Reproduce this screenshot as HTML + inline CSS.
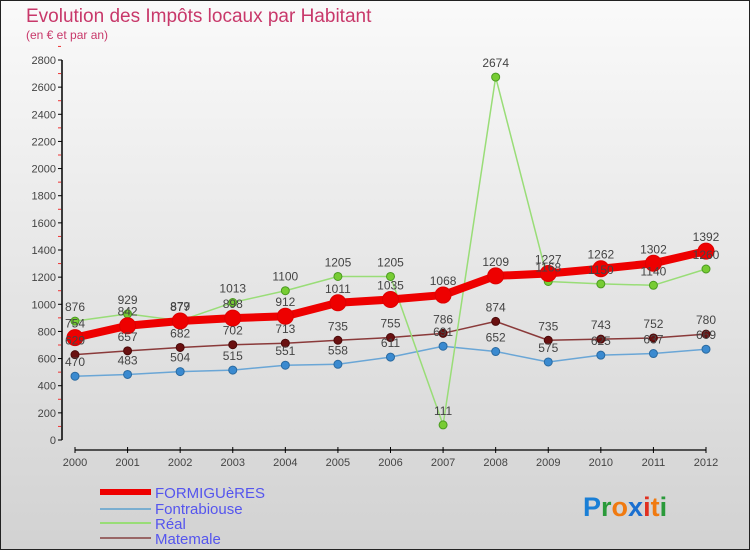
<!DOCTYPE html>
<html><head><meta charset="utf-8"><style>
body{margin:0;width:750px;height:550px;overflow:hidden;font-family:"Liberation Sans","DejaVu Sans",sans-serif}
svg text{font-family:"Liberation Sans","DejaVu Sans",sans-serif}
</style></head><body>
<svg id="chart" width="750" height="550" viewBox="0 0 750 550">
<defs><linearGradient id="bg" x1="0" y1="0" x2="0" y2="1"><stop offset="0" stop-color="#fafafa"/><stop offset="1" stop-color="#d2d2d2"/></linearGradient></defs>
<rect x="0.5" y="0.5" width="749" height="549" fill="url(#bg)" stroke="#222"/>
<text x="26" y="22" font-size="19" fill="#c8386a">Evolution des Impôts locaux par Habitant</text>
<text x="26" y="39" font-size="12" fill="#c8386a">(en € et par an)</text>
<g id="axes"></g><g id="series"></g><g id="labels"></g>
<g>
<rect x="100" y="489" width="51" height="6" fill="#e00"/>
<text x="155" y="498" font-size="15" fill="#5555ee">FORMIGUèRES</text>
<rect x="100" y="508" width="51" height="2" fill="#7aaed0"/>
<text x="155" y="514" font-size="15" fill="#5555ee">Fontrabiouse</text>
<rect x="100" y="522" width="51" height="2" fill="#99dd77"/>
<text x="155" y="529" font-size="15" fill="#5555ee">Réal</text>
<rect x="100" y="537" width="51" height="2" fill="#996666"/>
<text x="155" y="544" font-size="15" fill="#5555ee">Matemale</text>
</g>
<g font-size="27" font-weight="bold">
<text x="583" y="516"><tspan fill="#1a7fd6">P</tspan><tspan fill="#2a9a3a">r</tspan><tspan fill="#f07a10">o</tspan><tspan fill="#1a6fd0">x</tspan><tspan fill="#e03020">i</tspan><tspan fill="#f07a10">t</tspan><tspan fill="#2a9a3a">i</tspan></text>
</g>
</svg>
<script>
const years=[2000,2001,2002,2003,2004,2005,2006,2007,2008,2009,2010,2011,2012];
const yTicks=[0,200,400,600,800,1000,1200,1400,1600,1800,2000,2200,2400,2600,2800];
const formigueres=[754,842,877,898,912,1011,1035,1068,1209,1227,1262,1302,1392];
const fontrabiouse=[470,483,504,515,551,558,611,691,652,575,625,637,669];
const real=[876,929,879,1013,1100,1205,1205,111,2674,1168,1150,1140,1260];
const matemale=[629,657,682,702,713,735,755,786,874,735,743,752,780];
const NS='http://www.w3.org/2000/svg';
const X=i=>75+i*(706-75)/(years.length-1);
const Y=v=>440-v*(380/2800);
function mk(t,a,p){const e=document.createElementNS(NS,t);for(const k in a)e.setAttribute(k,a[k]);p.appendChild(e);return e;}
const ax=document.getElementById('axes'),sg=document.getElementById('series'),lg=document.getElementById('labels');
const yl=mk('line',{x1:62,y1:Y(2800),x2:62,y2:Y(0),stroke:'#000','stroke-width':1.5},ax);


yTicks.forEach(t=>{
 mk('line',{x1:58,y1:Y(t),x2:62,y2:Y(t),stroke:'#000'},ax);
 mk('line',{x1:58,y1:Y(t+100),x2:61,y2:Y(t+100),stroke:'#e33'},ax);
 const tx=mk('text',{x:56,y:Y(t)+4,'font-size':11,fill:'#444','text-anchor':'end'},ax);
 
 
 tx.textContent=t;
});
const xl=mk('line',{x1:X(0),y1:450,x2:X(years.length-1),y2:450,stroke:'#000','stroke-width':1.2},ax);


years.forEach((y,i)=>{
 mk('line',{x1:X(i),y1:447,x2:X(i),y2:453,stroke:'#000'},ax);
 const tx=mk('text',{x:X(i),y:466,'font-size':11,fill:'#444','text-anchor':'middle'},ax);
 
 
 tx.textContent=y;
});
function series(name,vals,color,w,r,dot,stroke){
 const pts=vals.map((v,i)=>X(i)+','+Y(v)).join(' ');
 const pl=mk('polyline',{points:pts,fill:'none',stroke:color,'stroke-width':w,'stroke-linejoin':'round'},sg);
 
 
 vals.forEach((v,i)=>{
  const c=mk('circle',{cx:X(i),cy:Y(v),r:r,fill:dot,stroke:stroke,'stroke-width':1},sg);
  
  
  const t=mk('text',{x:X(i),y:Y(v)-10,'font-size':12,fill:'#444','text-anchor':'middle'},lg);
  
  
  t.textContent=v;
 });
}
series('fontrabiouse',fontrabiouse,'#6aa6d6',1.5,4,'#3a8ad0','#2a6aa0');
series('matemale',matemale,'#8a3a3a',1.5,4,'#6a1010','#4a0a0a');
series('real',real,'#99dd77',1.5,4,'#77cc33','#4a9a20');
series('formigueres',formigueres,'#ee0000',8,8,'#ee0000','#dd0000');
</script>
</body></html>
